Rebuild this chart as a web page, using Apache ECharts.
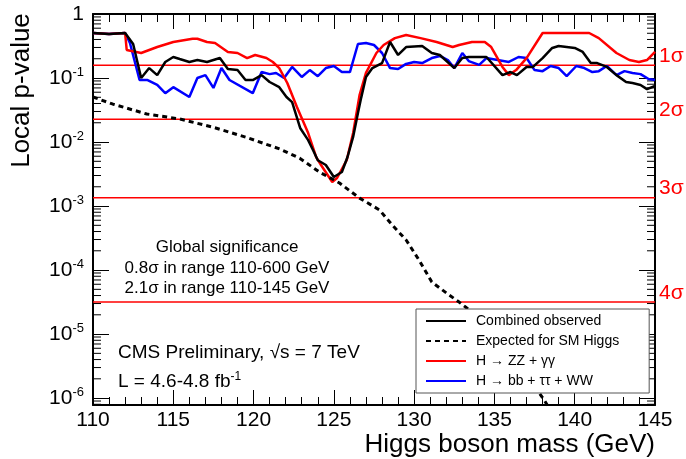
<!DOCTYPE html>
<html>
<head>
<meta charset="utf-8">
<script src="https://cdn.jsdelivr.net/npm/echarts@6.0.0/dist/echarts.min.js"></script>
<style>
  html, body { margin: 0; padding: 0; background: #fff; }
  #chart { width: 686px; height: 459px; }
</style>
</head>
<body>
<div id="chart"></div>
<script>
// data
var obsMass = [110, 111, 112, 112.5, 113, 113.5, 114, 114.5, 115, 115.4, 116, 116.5, 117.1, 117.9, 118.4, 119, 119.5, 119.95, 120.5, 121, 121.6, 122.05, 122.4, 122.9, 123.4, 123.7, 124, 124.5, 125, 125.5, 125.85, 126.2, 126.5, 126.7, 127, 127.4, 128, 128.5, 129, 129.5, 130.5, 131.1, 131.6, 132.5, 133, 133.4, 134.5, 135.5, 136, 136.4, 137, 137.4, 138, 138.6, 139, 140, 140.5, 141, 141.4, 142, 142.6, 143.2, 143.6, 144.1, 144.5, 145];
var obsP = [0.505, 0.487, 0.505, 0.34, 0.1, 0.143, 0.111, 0.178, 0.213, 0.198, 0.178, 0.191, 0.178, 0.205, 0.138, 0.133, 0.093, 0.093, 0.111, 0.0866, 0.072, 0.0505, 0.042, 0.0166, 0.0107, 0.0075, 0.0052, 0.00437, 0.00284, 0.0034, 0.00583, 0.012, 0.0284, 0.049, 0.104, 0.143, 0.171, 0.365, 0.229, 0.305, 0.316, 0.246, 0.229, 0.143, 0.205, 0.213, 0.213, 0.111, 0.124, 0.111, 0.149, 0.149, 0.205, 0.295, 0.316, 0.295, 0.255, 0.171, 0.171, 0.149, 0.111, 0.0866, 0.0835, 0.078, 0.067, 0.075];

var expMass = [110, 111.25, 113.35, 115.4, 117.45, 119.57, 121.62, 122.87, 124.1, 125.35, 126.6, 127.84, 128.65, 129.5, 130.3, 131.1, 132, 132.8, 133.24, 134.5, 136, 137.3, 138.1, 138.4];
var expP = [0.0505, 0.039, 0.0274, 0.0229, 0.0171, 0.0118, 0.0078, 0.0056, 0.0034, 0.00229, 0.00133, 0.00087, 0.0005, 0.000295, 0.000144, 6.5e-5, 4.4e-5, 3.16e-5, 2.6e-5, 1.5e-5, 5e-6, 1.8e-6, 9.3e-7, 7e-7];

var zzMass = [110, 111, 112, 112.1, 113, 114, 115, 116.2, 116.5, 117.1, 117.6, 118.4, 119, 119.6, 120.1, 120.8, 121.2, 121.6, 122.1, 122.7, 123.4, 123.9, 124.2, 124.9, 125.2, 125.8, 126.2, 126.6, 127, 127.65, 128.1, 128.8, 129.5, 130.4, 131.4, 132.4, 132.8, 133.6, 134.4, 134.8, 135.5, 135.9, 136.35, 137, 138, 140.9, 141.5, 142.6, 143.4, 144, 144.5, 145];
var zzP = [0.505, 0.487, 0.505, 0.274, 0.246, 0.305, 0.365, 0.41, 0.41, 0.365, 0.352, 0.255, 0.246, 0.205, 0.229, 0.205, 0.178, 0.143, 0.0835, 0.0352, 0.0138, 0.00583, 0.00437, 0.00237, 0.00274, 0.0052, 0.0138, 0.054, 0.12, 0.246, 0.328, 0.42, 0.47, 0.42, 0.365, 0.305, 0.328, 0.365, 0.365, 0.305, 0.149, 0.111, 0.133, 0.205, 0.505, 0.505, 0.42, 0.246, 0.191, 0.178, 0.191, 0.255];

var bbMass = [110, 111, 112, 112.3, 112.9, 113.4, 114, 114.5, 115, 116, 116.5, 117, 117.5, 118, 118.5, 119.95, 120.5, 121, 121.4, 121.9, 122.4, 123, 123.5, 124, 124.5, 125, 125.5, 126, 126.5, 127, 127.5, 128, 128.5, 129, 129.5, 130, 130.5, 131.1, 131.6, 132.1, 132.5, 133, 133.4, 134.05, 134.5, 135.9, 136.5, 137, 137.5, 138, 138.5, 139, 139.5, 140.1, 140.6, 141.1, 141.5, 142, 142.6, 143.1, 143.6, 144.1, 144.6, 145];
var bbP = [0.505, 0.487, 0.505, 0.352, 0.093, 0.093, 0.078, 0.058, 0.072, 0.0505, 0.1, 0.111, 0.07, 0.143, 0.093, 0.058, 0.124, 0.115, 0.12, 0.1, 0.149, 0.104, 0.133, 0.107, 0.143, 0.154, 0.124, 0.124, 0.34, 0.352, 0.328, 0.246, 0.143, 0.138, 0.166, 0.178, 0.171, 0.205, 0.221, 0.191, 0.143, 0.246, 0.184, 0.16, 0.205, 0.178, 0.213, 0.205, 0.133, 0.128, 0.154, 0.143, 0.107, 0.154, 0.143, 0.124, 0.128, 0.154, 0.111, 0.128, 0.12, 0.115, 0.0965, 0.093];

var sigmaP = [0.1587, 0.02275, 0.00135, 3.167e-5];
var sigmaLabels = ['1σ', '2σ', '3σ', '4σ'];

var seriesNames = ['Combined observed', 'Expected for SM Higgs', 'H → ZZ + γγ', 'H → bb + ττ + WW'];

// log minor tick positions (2..9 per decade)
var minorMult = [2, 3, 4, 5, 6, 7, 8, 9];
var decades = [-7, -6, -5, -4, -3, -2, -1];

var FONT = 'Liberation Sans, Arial, Helvetica, sans-serif';
var Y_MIN = 7.8e-7;
var X_MIN = 110, X_MAX = 145;

function zip(xs, ys) {
    var out = [];
    for (var i = 0; i < xs.length; i++) {
        out.push([xs[i], ys[i]]);
    }
    return out;
}

var minorVals = [];
for (var d = 0; d < decades.length; d++) {
    for (var k = 0; k < minorMult.length; k++) {
        var v = minorMult[k] * Math.pow(10, decades[d]);
        if (v > Y_MIN && v < 1) minorVals.push([X_MIN, v]);
    }
}

function yLabel(value) {
    var e = Math.log10(value);
    if (Math.abs(e - Math.round(e)) > 1e-6) return '';
    e = Math.round(e);
    if (e === 0) return '{b|1}';
    return '{b|10}{s|' + e + '}';
}

var chart = echarts.init(document.getElementById('chart'), null, {renderer: 'canvas'});

// horizontal significance lines
var sigmaSeries = sigmaP.map(function (p, i) {
    return {
        name: 'sigma' + (i + 1),
        type: 'line',
        symbol: 'none',
        silent: true,
        z: 1,
        data: [[X_MIN, p], [X_MAX, p]],
        lineStyle: {color: '#ff0000', width: 1.5},
        itemStyle: {color: '#ff0000'},
        endLabel: {
            show: true,
            formatter: sigmaLabels[i],
            color: '#ff0000',
            fontSize: 21,
            fontFamily: FONT,
            distance: 4,
            offset: [0, -9]
        }
    };
});

var option = {
    animation: false,
    backgroundColor: '#fff',
    textStyle: {fontFamily: FONT},
    grid: {left: 93, right: 31, top: 14, bottom: 54, containLabel: false, outerBoundsMode: 'none'},
    legend: {
        data: seriesNames,
        orient: 'vertical',
        left: 416,
        top: 309,
        padding: [5, 30, 5, 9],
        itemWidth: 40,
        itemHeight: 14,
        itemGap: 6,
        backgroundColor: '#fff',
        borderColor: '#555',
        borderWidth: 1,
        selectedMode: false,
        itemStyle: {opacity: 0},
        textStyle: {fontSize: 14, color: '#000', fontFamily: FONT, padding: [0, 0, 0, 5]}
    },
    xAxis: [{
        type: 'value',
        min: X_MIN,
        max: X_MAX,
        interval: 5,
        name: 'Higgs boson mass (GeV)',
        nameLocation: 'end',
        nameGap: 0,
        nameTextStyle: {fontSize: 26, color: '#000', align: 'right', verticalAlign: 'top', padding: [27, 0, 0, 0], fontFamily: FONT},
        axisLine: {onZero: false, lineStyle: {color: '#000', width: 2}},
        axisTick: {inside: true, length: 15, lineStyle: {color: '#000', width: 1}},
        minorTick: {show: true, splitNumber: 5, length: 8, lineStyle: {color: '#000', width: 1}},
        axisLabel: {fontSize: 21, color: '#000', margin: 5, fontFamily: FONT},
        splitLine: {show: false}
    }, {
        type: 'value',
        position: 'top',
        min: X_MIN,
        max: X_MAX,
        interval: 5,
        axisLine: {onZero: false, lineStyle: {color: '#000', width: 2}},
        axisTick: {inside: true, length: 15, lineStyle: {color: '#000', width: 1}},
        minorTick: {show: true, splitNumber: 5, length: 8, lineStyle: {color: '#000', width: 1}},
        axisLabel: {show: false},
        splitLine: {show: false}
    }],
    yAxis: [{
        type: 'log',
        logBase: 10,
        min: Y_MIN,
        max: 1,
        name: 'Local p-value',
        nameLocation: 'middle',
        nameGap: 58,
        nameTextStyle: {fontSize: 26, color: '#000', padding: [0, 0, 0, 238], fontFamily: FONT},
        axisLine: {onZero: false, lineStyle: {color: '#000', width: 2}},
        axisTick: {inside: true, length: 16, lineStyle: {color: '#000', width: 1}},
        axisLabel: {
            margin: 9,
            color: '#000',
            formatter: yLabel,
            rich: {
                b: {fontSize: 21, lineHeight: 24, color: '#000', fontFamily: FONT},
                s: {fontSize: 13, lineHeight: 13, verticalAlign: 'top', color: '#000', fontFamily: FONT}
            }
        },
        splitLine: {show: false}
    }, {
        type: 'log',
        logBase: 10,
        position: 'right',
        min: Y_MIN,
        max: 1,
        axisLine: {onZero: false, lineStyle: {color: '#000', width: 2}},
        axisTick: {inside: true, length: 16, lineStyle: {color: '#000', width: 1}},
        axisLabel: {show: false},
        splitLine: {show: false}
    }],
    graphic: [
        {type: 'text', x: 227, y: 247, style: {text: 'Global significance', font: '17px ' + FONT, fill: '#000', textAlign: 'center', textVerticalAlign: 'middle'}},
        {type: 'text', x: 227, y: 268, style: {text: '0.8σ in range 110-600 GeV', font: '17px ' + FONT, fill: '#000', textAlign: 'center', textVerticalAlign: 'middle'}},
        {type: 'text', x: 227, y: 288, style: {text: '2.1σ in range 110-145 GeV', font: '17px ' + FONT, fill: '#000', textAlign: 'center', textVerticalAlign: 'middle'}},
        {type: 'text', x: 118, y: 353, style: {text: 'CMS Preliminary, √s = 7 TeV', font: '19px ' + FONT, fill: '#000', textAlign: 'left', textVerticalAlign: 'middle'}},
        {type: 'text', x: 118, y: 382, style: {
            text: '{b|L = 4.6-4.8 fb}{s|-1}',
            textAlign: 'left', textVerticalAlign: 'middle',
            rich: {
                b: {fontSize: 19, lineHeight: 22, fill: '#000', fontFamily: FONT},
                s: {fontSize: 12, lineHeight: 12, verticalAlign: 'top', fill: '#000', fontFamily: FONT}
            }
        }}
    ],
    series: [{
        type: 'custom',
        name: 'minor',
        silent: true,
        clip: false,
        renderItem: function (params, api) {
            var cs = params.coordSys;
            var y = api.coord([api.value(0), api.value(1)])[1];
            var right = cs.x + cs.width;
            return {
                type: 'group',
                children: [
                    {type: 'line', shape: {x1: cs.x, y1: y, x2: cs.x + 8, y2: y}, style: {stroke: '#000', lineWidth: 1}},
                    {type: 'line', shape: {x1: right - 8, y1: y, x2: right, y2: y}, style: {stroke: '#000', lineWidth: 1}}
                ]
            };
        },
        data: minorVals,
        z: 1
    }].concat(sigmaSeries).concat([{
        name: seriesNames[3],
        type: 'line',
        symbol: 'none',
        data: zip(bbMass, bbP),
        lineStyle: {color: '#0000ff', width: 2.5},
        itemStyle: {color: '#0000ff'}
    }, {
        name: seriesNames[2],
        type: 'line',
        symbol: 'none',
        data: zip(zzMass, zzP),
        lineStyle: {color: '#ff0000', width: 2.5},
        itemStyle: {color: '#ff0000'}
    }, {
        name: seriesNames[1],
        type: 'line',
        symbol: 'none',
        data: zip(expMass, expP),
        lineStyle: {color: '#000', width: 3, type: [5, 4]},
        itemStyle: {color: '#000'}
    }, {
        name: seriesNames[0],
        type: 'line',
        symbol: 'none',
        data: zip(obsMass, obsP),
        lineStyle: {color: '#000', width: 2.5},
        itemStyle: {color: '#000'}
    }])
};

chart.setOption(option);
</script>
</body>
</html>
